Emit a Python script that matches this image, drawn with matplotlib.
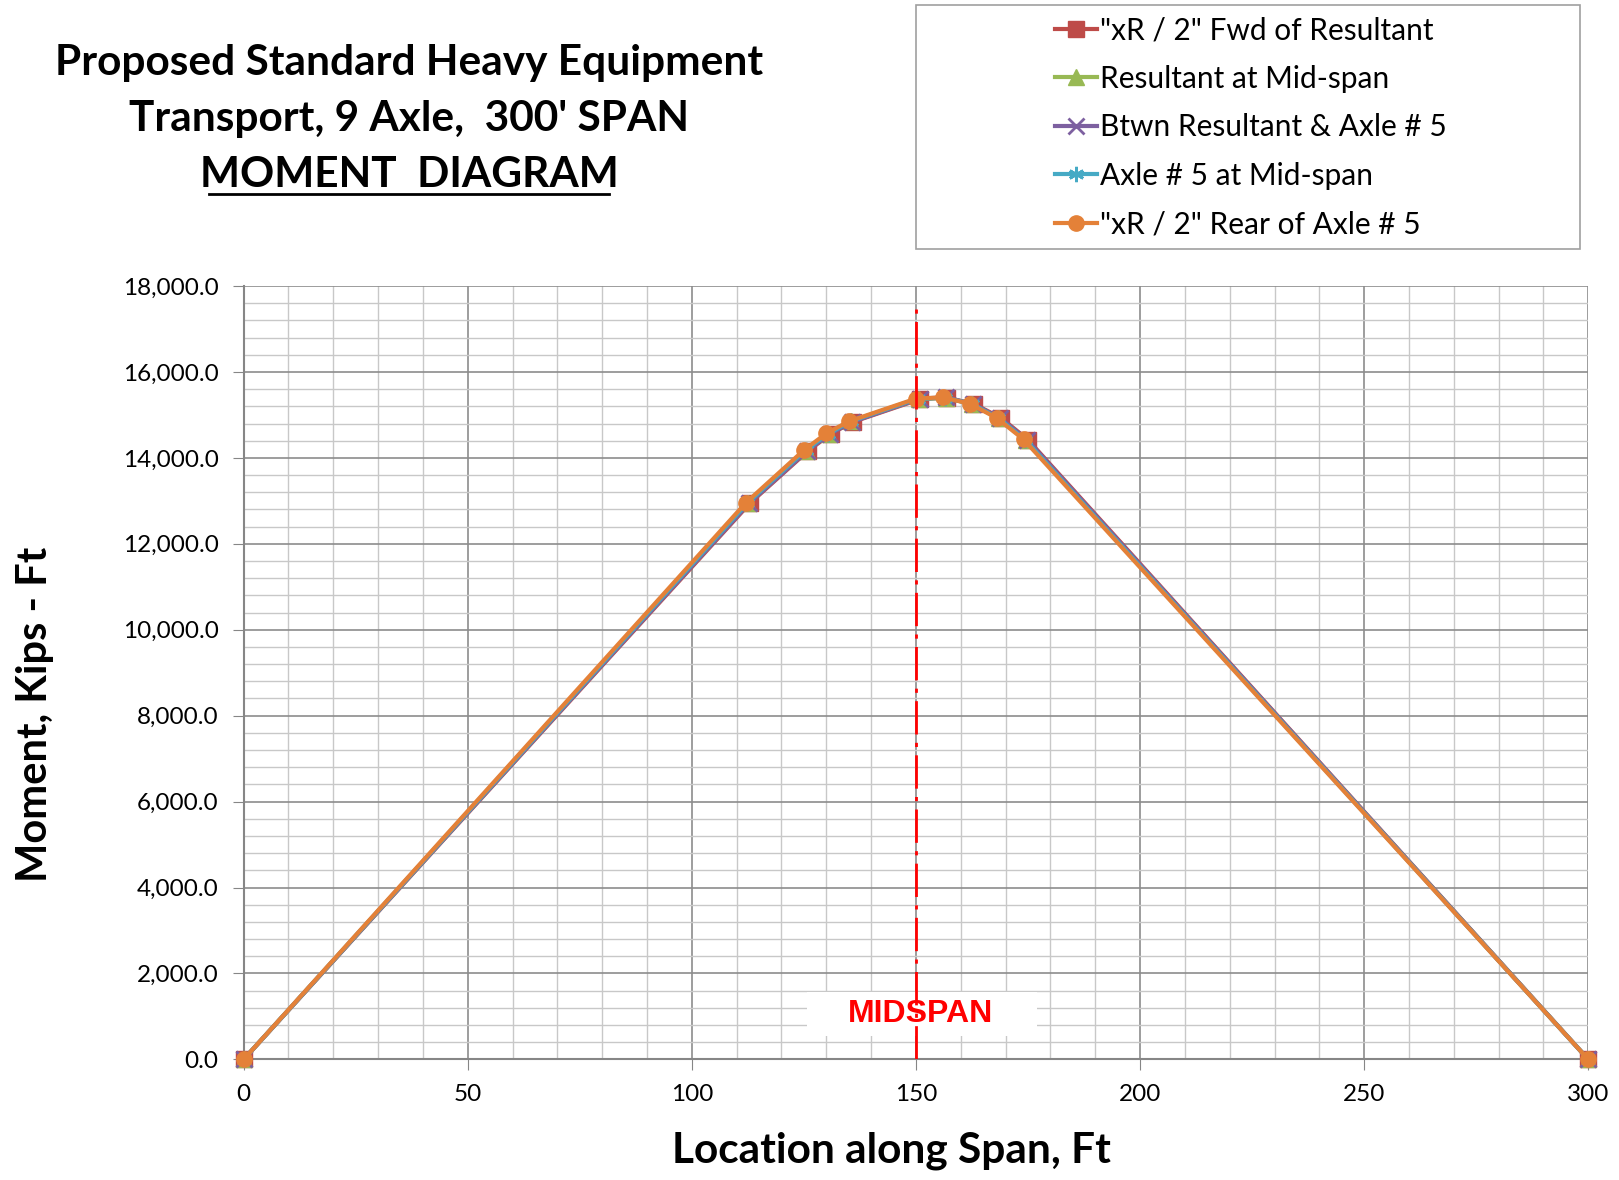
import numpy as np
import matplotlib.pyplot as plt
from matplotlib.patches import Rectangle
from matplotlib.ticker import MultipleLocator, FuncFormatter

plt.rcParams['font.family'] = ['Lato', 'DejaVu Sans']

# location along span (ft) and moment (kips-ft) for the 5 load positions
x_fwd = [0, 113.0, 126.0, 131.0, 136.0, 151.0, 157.0, 163.0, 169.0, 175.0, 300]
m_fwd = [0, 12950, 14170, 14560, 14840, 15370, 15400, 15250, 14930, 14420, 0]
x_res = [0, 112.6, 125.6, 130.6, 135.6, 150.6, 156.6, 162.6, 168.6, 174.6, 300]
m_res = [0, 12940, 14170, 14560, 14850, 15370, 15400, 15250, 14920, 14420, 0]
x_btw = [0, 112.8, 125.8, 130.8, 135.8, 150.8, 156.8, 162.8, 168.8, 174.8, 300]
m_btw = [0, 12950, 14170, 14560, 14840, 15380, 15410, 15250, 14920, 14420, 0]
x_ax5 = [0, 112.4, 125.4, 130.4, 135.4, 150.4, 156.4, 162.4, 168.4, 174.4, 300]
m_ax5 = [0, 12950, 14180, 14560, 14850, 15380, 15400, 15260, 14920, 14420, 0]
x_rear = [0, 112.0, 125.0, 130.0, 135.0, 150.0, 156.0, 162.0, 168.0, 174.0, 300]
m_rear = [0, 12950, 14180, 14570, 14850, 15380, 15410, 15260, 14930, 14430, 0]

labels = ['"xR / 2" Fwd of Resultant', 'Resultant at Mid-span',
          'Btwn Resultant & Axle # 5', 'Axle # 5 at Mid-span',
          '"xR / 2" Rear of Axle # 5']
colors = ['#BE4B48', '#98B954', '#7D60A0', '#46AAC5', '#E48138']
markers = ['s', '^', 'x', (6, 2, 0), 'o']

fig = plt.figure(figsize=(16.19, 11.80), dpi=100)
ax = fig.add_axes([0.1505, 0.1022, 0.8305, 0.6554])

series = [(x_fwd, m_fwd), (x_res, m_res), (x_btw, m_btw), (x_ax5, m_ax5), (x_rear, m_rear)]
for (xs, ys), lab, c, mk in zip(series, labels, colors, markers):
    ax.plot(xs, ys, color=c, lw=3, marker=mk, ms=11, mew=2 if mk in ('x', (6, 2, 0)) else 1,
            mec=c, label=lab, zorder=3, clip_on=False)

# midspan line and label
ax.add_patch(Rectangle((125.8, 550), 51.2, 1030, facecolor='white', edgecolor='none', zorder=2.5))
ax.plot([150, 150], [0, 17500], color='red', lw=2, ls=(0, (12, 3, 1.5, 3)), zorder=4)
ax.text(151, 1050, 'MIDSPAN', color='red', fontsize=23, fontweight='bold',
        family=['Liberation Sans'], ha='center', va='center', zorder=5)

ax.set_xlim(0, 300)
ax.set_ylim(0, 18000)
ax.xaxis.set_major_locator(MultipleLocator(50))
ax.xaxis.set_minor_locator(MultipleLocator(10))
ax.yaxis.set_major_locator(MultipleLocator(2000))
ax.yaxis.set_minor_locator(MultipleLocator(400))
ax.yaxis.set_major_formatter(FuncFormatter(lambda v, p: f'{v:,.1f}'))
ax.grid(which='major', color='#8c8c8c', lw=1.2)
ax.grid(which='minor', color='#c8c8c8', lw=1.0)
ax.set_axisbelow(True)
for s in ['top', 'right']:
    ax.spines[s].set_visible(False)
for s in ['left', 'bottom']:
    ax.spines[s].set_color('#868686')
    ax.spines[s].set_linewidth(1.5)
ax.tick_params(which='major', length=8, color='#868686', labelsize=17.5, pad=10)
ax.tick_params(which='minor', length=0)

ax.set_xlabel('Location along Span, Ft', fontsize=30.5, fontweight='bold')
ax.set_ylabel('Moment, Kips - Ft', fontsize=30, fontweight='bold')
ax.xaxis.set_label_coords(0.482, -0.093)
ax.yaxis.set_label_coords(-0.141, 0.446)

fig.text(0.2526, 0.9466, 'Proposed Standard Heavy Equipment', fontsize=30.5,
         fontweight='bold', ha='center', va='center')
fig.text(0.2526, 0.8994, "Transport, 9 Axle,  300' SPAN", fontsize=30.5,
         fontweight='bold', ha='center', va='center')
fig.text(0.2526, 0.852, 'MOMENT  DIAGRAM', fontsize=30.5,
         fontweight='bold', ha='center', va='center')
fig.lines.append(plt.Line2D([0.129, 0.376], [0.8355, 0.8355], color='black', lw=2,
                            transform=fig.transFigure))

# legend frame drawn separately (it is much wider than the entries)
fig.patches.append(Rectangle((0.566, 0.789), 0.410, 0.2068, transform=fig.transFigure,
                             facecolor='white', edgecolor='#a0a0a0', lw=1.2))
leg = fig.legend(loc='upper left', bbox_to_anchor=(0.6516, 0.9864), fontsize=21.5,
                 frameon=False, handlelength=1.4, markerscale=1.0,
                 handletextpad=0.1, borderpad=0, labelspacing=0.69,
                 borderaxespad=0)

fig.savefig('out.png', dpi=100)
